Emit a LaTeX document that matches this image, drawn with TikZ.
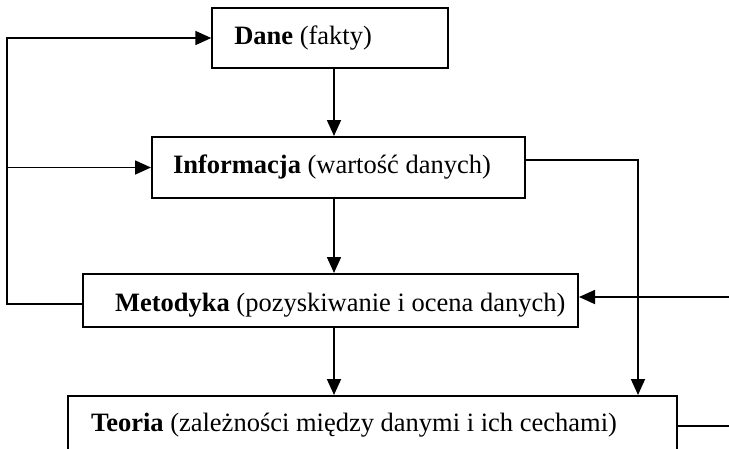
\documentclass[tikz,border=0pt]{standalone}
\usepackage{fontspec}
\setmainfont{Liberation Serif}
\usetikzlibrary{arrows.meta}
\newcommand{\boxlabel}[3]{\makebox[#1][l]{\hspace*{#2}#3}}
\begin{document}
\begin{tikzpicture}[x=1pt, y=-1pt,
  font=\fontsize{26.5}{30}\selectfont,
  box/.style={draw, rectangle, line width=2pt, inner xsep=0pt, inner ysep=0pt},
  arr/.style={line width=1.7pt, -{Triangle[length=16pt,width=14pt]}},
  ln/.style={line width=1.7pt}]
\useasboundingbox (0,0) rectangle (729,448);
\clip (0,0) rectangle (729,448);
\node[box, minimum height=60pt, text height=18pt, text depth=6pt] (dane) at (330.3,38)
  {\boxlabel{236pt}{22pt}{\textbf{Dane} (fakty)}};
\node[box, minimum height=61pt, text height=18pt, text depth=6.4pt] (info) at (338.5,167.5)
  {\boxlabel{373pt}{21pt}{\textbf{Informacja} (wartość danych)}};
\node[box, minimum height=53pt, text height=24pt, text depth=3pt] (met) at (330.5,300.5)
  {\boxlabel{495pt}{32pt}{\textbf{Metodyka} (pozyskiwanie i ocena danych)}};
\node[box, minimum height=66pt, text height=18pt, text depth=14pt] (teo) at (372.5,429)
  {\boxlabel{609pt}{23pt}{\textbf{Teoria} (zależności między danymi i ich cechami)}};
\coordinate (spine) at (334,0);
\coordinate (lx) at (7,0);
\coordinate (rx) at (638,0);
\coordinate (edge) at (729,0);
\coordinate (metin) at ([yshift=3.5pt]met.east);
\coordinate (teoout) at ([yshift=3pt]teo.east);
\draw[arr] (dane.south -| spine) -- (info.north -| spine);
\draw[arr] (info.south -| spine) -- (met.north -| spine);
\draw[arr] (met.south -| spine) -- (teo.north -| spine);
\draw[arr] ([yshift=-3.5pt]met.west) -| (lx |- dane.west) -- (dane.west);
\draw[arr] (lx |- info.west) -- (info.west);
\draw[arr] ([yshift=7.5pt]info.east) -| (teo.north -| rx);
\draw[arr] (edge |- metin) -- (metin);
\draw[ln] (teoout) -- (edge |- teoout);
\end{tikzpicture}
\end{document}
